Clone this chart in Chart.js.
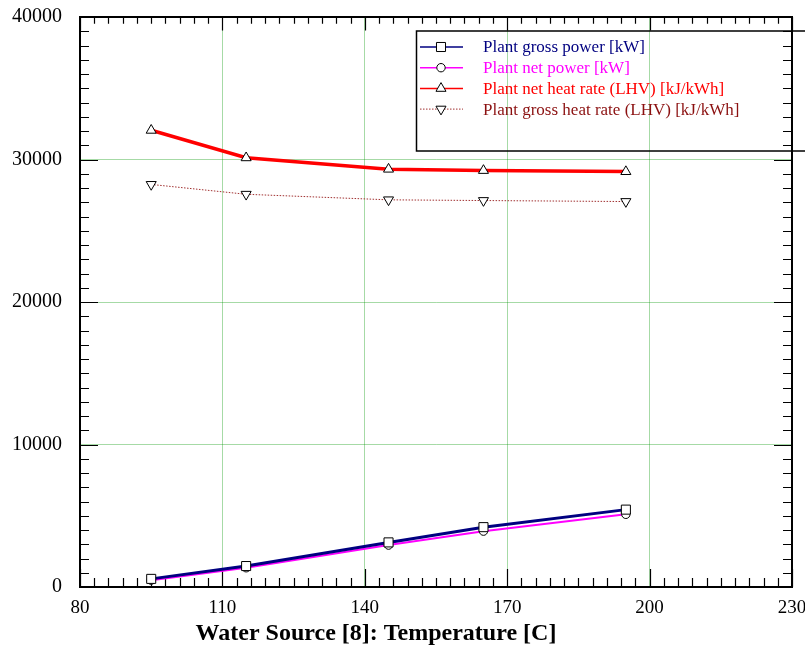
<!DOCTYPE html>
<html>
<head>
<meta charset="utf-8">
<script src="https://cdn.jsdelivr.net/npm/chart.js@4/dist/chart.umd.min.js"></script>
<style>
  html, body { margin: 0; padding: 0; background: #fff; }
  #wrap { width: 805px; height: 649px; }
</style>
</head>
<body>
<div id="wrap"><canvas id="c" width="805" height="649"></canvas></div>
<script>
// ===== DATA =====
const temps = [95, 115, 145, 165, 195];
const grossPower = [570, 1470, 3130, 4200, 5430];
const netPower = [480, 1350, 2940, 3920, 5100];
const netHeatRate = [32050, 30120, 29320, 29230, 29150];
const grossHeatRate = [28250, 27560, 27170, 27120, 27050];

const xTicks = [80, 110, 140, 170, 200, 230];
const yTicks = [0, 10000, 20000, 30000, 40000];

const seriesNames = [
  "Plant gross power [kW]",
  "Plant net power [kW]",
  "Plant net heat rate (LHV) [kJ/kWh]",
  "Plant gross heat rate (LHV) [kJ/kWh]"
];

const FONT = "'Liberation Serif', 'Times New Roman', serif";

function pts(arr) {
  return temps.map((t, i) => ({ x: t, y: arr[i] }));
}

// ===== MARKER (legend) =====
function marker(ctx, style, x, y, r, rot) {
  ctx.save();
  ctx.fillStyle = "#fff";
  ctx.strokeStyle = "#000";
  ctx.lineWidth = 1;
  ctx.beginPath();
  if (style === "rect") {
    const s = r * Math.SQRT1_2;
    ctx.rect(x - s, y - s, 2 * s, 2 * s);
  } else if (style === "circle") {
    ctx.arc(x, y, r, 0, Math.PI * 2);
  } else {
    let a = (rot || 0) * Math.PI / 180;
    ctx.moveTo(x + Math.sin(a) * r, y - Math.cos(a) * r);
    a += Math.PI * 2 / 3;
    ctx.lineTo(x + Math.sin(a) * r, y - Math.cos(a) * r);
    a += Math.PI * 2 / 3;
    ctx.lineTo(x + Math.sin(a) * r, y - Math.cos(a) * r);
    ctx.closePath();
  }
  ctx.fill();
  ctx.stroke();
  ctx.restore();
}

// ===== FRAME + MINOR TICKS =====
const framePlugin = {
  id: "frame",
  beforeDatasetsDraw(chart) {
    const { ctx, chartArea: a, scales } = chart;
    const xs = scales.x, ys = scales.y;
    ctx.save();
    ctx.strokeStyle = "#000";
    ctx.lineWidth = 1.2;
    ctx.beginPath();
    for (let v = 80; v <= 230; v += 3) {
      const px = Math.round(xs.getPixelForValue(v)) + 0.5;
      const len = (v - 80) % 30 === 0 ? 18 : 9;
      ctx.moveTo(px, a.bottom); ctx.lineTo(px, a.bottom - len);
      ctx.moveTo(px, a.top); ctx.lineTo(px, a.top + len * 0.75);
    }
    for (let v = 0; v <= 40000; v += 1000) {
      const py = Math.round(ys.getPixelForValue(v)) + 0.5;
      const len = v % 10000 === 0 ? 18 : 9;
      ctx.moveTo(a.left, py); ctx.lineTo(a.left + len, py);
      ctx.moveTo(a.right, py); ctx.lineTo(a.right - len, py);
    }
    ctx.stroke();

    // top and right border
    ctx.lineWidth = 2;
    ctx.beginPath();
    ctx.moveTo(a.left, a.top); ctx.lineTo(a.right, a.top);
    ctx.lineTo(a.right, a.bottom);
    ctx.stroke();
    ctx.restore();
  },
  afterDraw(chart) {
    const { ctx } = chart;
    ctx.save();
    // x title
    ctx.font = "bold 24px " + FONT;
    ctx.fillStyle = "#000";
    ctx.textAlign = "center";
    ctx.textBaseline = "alphabetic";
    ctx.fillText("Water Source [8]: Temperature [C]", 376, 640);

    // legend box
    ctx.strokeStyle = "#000";
    ctx.lineWidth = 1.5;
    ctx.strokeRect(416.5, 31, 420, 120);

    const ds = chart.data.datasets;
    ctx.font = "17px " + FONT;
    ctx.textAlign = "left";
    ctx.textBaseline = "middle";
    ds.forEach((d, i) => {
      const y = 47 + i * 20.7;
      ctx.save();
      ctx.strokeStyle = d.borderColor;
      ctx.lineWidth = Math.min(d.borderWidth, 1.5);
      ctx.setLineDash(d.borderDash || []);
      ctx.beginPath();
      ctx.moveTo(420, y); ctx.lineTo(463, y);
      ctx.stroke();
      ctx.restore();
      marker(ctx, d.pointStyle, 441, y, d.pointRadius, d.pointRotation);
      ctx.fillStyle = d.legendText;
      ctx.fillText(seriesNames[i], 483, y + 1);
    });
    ctx.restore();
  }
};

// ===== CHART =====
const ctx = document.getElementById("c").getContext("2d");

const chart = new Chart(ctx, {
  type: "line",
  data: {
    datasets: [
      {
        label: seriesNames[0],
        data: pts(grossPower),
        borderColor: "#000080",
        legendText: "#000080",
        borderWidth: 3,
        pointStyle: "rect",
        pointRadius: 6.4
      },
      {
        label: seriesNames[1],
        data: pts(netPower),
        borderColor: "#ff00ff",
        legendText: "#ff00ff",
        borderWidth: 2,
        pointStyle: "circle",
        pointRadius: 4.2
      },
      {
        label: seriesNames[2],
        data: pts(netHeatRate),
        borderColor: "#ff0000",
        legendText: "#ff0000",
        borderWidth: 3.5,
        pointStyle: "triangle",
        pointRadius: 5.8
      },
      {
        label: seriesNames[3],
        data: pts(grossHeatRate),
        borderColor: "#a03030",
        legendText: "#8b1010",
        borderWidth: 1,
        borderDash: [1.5, 1.5],
        pointStyle: "triangle",
        pointRotation: 180,
        pointRadius: 5.8
      }
    ].map(d => Object.assign({
      pointBackgroundColor: "#fff",
      pointBorderColor: "#000",
      pointBorderWidth: 1,
      tension: 0,
      fill: false
    }, d))
  },
  options: {
    responsive: false,
    animation: false,
    events: [],
    layout: { padding: { top: 17, right: 13, left: 0, bottom: 0 } },
    plugins: { legend: { display: false }, tooltip: { enabled: false } },
    scales: {
      x: {
        type: "linear",
        min: 80, max: 230,
        afterBuildTicks: s => { s.ticks = xTicks.map(v => ({ value: v })); },
        afterFit: s => { s.height = 62; s.paddingLeft = 0; s.paddingRight = 0; },
        ticks: {
          color: "#000",
          padding: 10,
          maxRotation: 0,
          autoSkip: false,
          font: { family: FONT, size: 19 },
          callback: v => String(v)
        },
        grid: { color: "rgba(0,150,0,0.35)", lineWidth: 1, drawTicks: false },
        border: { color: "#000", width: 2 }
      },
      y: {
        type: "linear",
        min: 0, max: 40000,
        afterBuildTicks: s => { s.ticks = yTicks.map(v => ({ value: v })); },
        afterFit: s => { s.width = 80; s.paddingTop = 0; s.paddingBottom = 0; },
        ticks: {
          color: "#000",
          padding: 18,
          autoSkip: false,
          font: { family: FONT, size: 20 },
          callback: v => String(v)
        },
        grid: { color: "rgba(0,150,0,0.35)", lineWidth: 1, drawTicks: false },
        border: { color: "#000", width: 2 }
      }
    }
  },
  plugins: [framePlugin]
});
</script>
</body>
</html>
